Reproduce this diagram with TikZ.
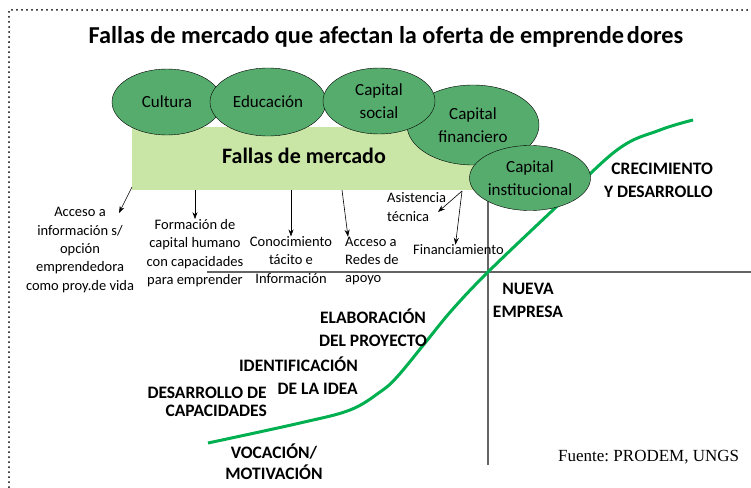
\documentclass[tikz,border=0pt]{standalone}
\usepackage{fontspec}
\setmainfont{Carlito}
\newfontfamily\fuentefont{Liberation Serif}
\usetikzlibrary{shapes.geometric}
\usetikzlibrary{arrows.meta}
\usetikzlibrary{positioning}
\definecolor{oval-green}{RGB}{86,172,109}
\definecolor{band-green}{RGB}{201,230,166}
\definecolor{curve-green}{RGB}{0,176,80}
\definecolor{axis-gray}{RGB}{100,100,100}

\tikzset{
  oval/.style={ellipse, draw=black, fill=oval-green, inner sep=0pt, align=center,
    font=\fontsize{17}{23}\selectfont},
  smalltxt/.style={inner sep=0pt, font=\fontsize{14.5}{18.3}\selectfont},
  stage/.style={inner sep=0pt, font=\fontsize{17.5}{23}\selectfont\bfseries},
  arr/.style={-{Stealth[length=7pt,width=5pt]}, line width=0.6pt},
}

\begin{document}
\begin{tikzpicture}[x=1pt,y=-1pt]
\useasboundingbox (0,0) rectangle (751,487);
% marco punteado
\draw[line width=2pt, line cap=round, dash pattern=on 0pt off 5pt] (9,487) -- (9,10) -- (751,10);
\node (titulo) at (386,37) {\fontsize{24.3}{28}\selectfont\bfseries Fallas de mercado que afectan la oferta de emprende\hspace{0.12em}dores};

% banda y fallas
\node[fill=band-green, minimum width=348, minimum height=63, anchor=north west, inner sep=0pt] (banda) at (132,127) {};
\node (fallas) at (304,156) {\fontsize{22}{26}\selectfont\bfseries Fallas de mercado};

\node[oval, minimum width=110, minimum height=66] (cultura) at (167,102) {Cultura};
\node[oval, minimum width=116, minimum height=68] (educacion) at (268,102) {Educación};
\node[oval, minimum width=132, minimum height=80] (financiero) at (473,125) {Capital\\financiero};
\node[oval, minimum width=112, minimum height=66] (social) at (379,101) {Capital\\social};

% ejes
\draw[axis-gray, line width=2pt] (207,272) -- (751,272);
\draw[axis-gray, line width=2pt] (488,200) -- (488,465);

% curva
\draw[curve-green, line width=3pt] plot[smooth, tension=0.6] coordinates {(208,443) (300,423) (350,410) (380,392) (397,377) (425,343) (452,310) (488,272) (553,210) (617,150) (660,130) (693,120)};

\node[oval, minimum width=121, minimum height=65] (institucional) at (530,178) {Capital\\institucional};

% rotulos de las fallas
\node[smalltxt, align=center] (accinfo) at (80,250) {Acceso a\\información s/\\opción\\emprendedora\\como proy.de vida};
\node[smalltxt, align=center] (formacion) at (195,253) {Formación de\\capital humano\\con capacidades\\para emprender};
\node[smalltxt, align=center] (conocimiento) at (291,260) {Conocimiento\\tácito e\\Información};
\node[smalltxt, align=left, anchor=west] (redes) at (345,261) {Acceso a\\Redes de\\apoyo};
\node[smalltxt, align=left, anchor=west] (asistencia) at (387,207) {Asistencia\\técnica};
\node[smalltxt, anchor=west] (financiamiento) at (413,250) {Financiamiento};

\coordinate (s1) at (132,187);
\coordinate (t1) at (119,213);
\coordinate (s4) at (342,190);
\coordinate (s5) at (462,191);
\coordinate (t5) at (438,212);
\draw[arr] (s1) -- (t1);
\draw[arr] (banda.south -| formacion.north) -- (formacion.north);
\draw[arr] (banda.south -| conocimiento.north) -- (conocimiento.north);
\draw[arr] (s4) -- ([xshift=3pt]redes.north west);
\draw[arr] (s5) -- (t5);
\draw[arr] (s5) -- ([xshift=-3pt]financiamiento.north);

% etapas
\node[stage, align=right, anchor=east] (crecimiento) at (713,180) {CRECIMIENTO\\Y DESARROLLO};
\node[stage, align=center] (nueva) at (528,300) {NUEVA\\EMPRESA};
\node[stage, align=center] (elaboracion) at (373,328) {ELABORACIÓN\\DEL PROYECTO};
\node[stage, align=right, anchor=east] (identificacion) at (358,376) {IDENTIFICACIÓN\\DE LA IDEA};
\node[stage, align=right, anchor=east, font=\fontsize{17.5}{18.5}\selectfont\bfseries] (desarrollo) at (267,402) {DESARROLLO DE\\CAPACIDADES};
\node[stage, align=center, font=\fontsize{17.5}{21}\selectfont\bfseries] (vocacion) at (274,462) {VOCACIÓN/\\MOTIVACIÓN};

\node[anchor=west, inner sep=0pt, font=\fuentefont\fontsize{17}{19}\selectfont] (fuente) at (558,457) {\frenchspacing Fuente: PRODEM, UNGS};
\end{tikzpicture}
\end{document}
